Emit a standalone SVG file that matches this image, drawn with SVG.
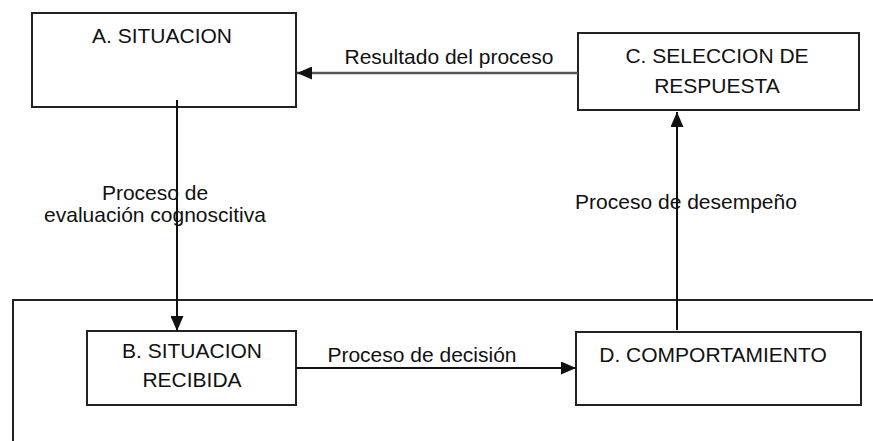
<svg xmlns="http://www.w3.org/2000/svg" width="873" height="441" viewBox="0 0 873 441">
  <style>
    .box { fill: #ffffff; stroke: #222222; stroke-width: 2; }
    .frame { fill: none; stroke: #222222; stroke-width: 2; }
    .label { font-family: "Liberation Sans", Arial, sans-serif; font-size: 21px; fill: #111111; text-anchor: middle; }
    .conn { fill: none; stroke: #111111; stroke-width: 2; }
    .conn-grey { fill: none; stroke: #555555; stroke-width: 2.5; }
  </style>
  <defs>
    <marker id="arrow" viewBox="0 0 15 13" refX="15" refY="6.5" markerWidth="15" markerHeight="13" orient="auto" markerUnits="userSpaceOnUse">
      <path d="M0,0 L15,6.5 L0,13 z" fill="#111111"/>
    </marker>
  </defs>
  <rect width="873" height="441" fill="#ffffff"/>

  <!-- outer frame around the lower stage -->
  <rect class="frame" x="13" y="300" width="900" height="200"/>

  <g id="node-a">
    <rect class="box" x="32" y="13" width="264" height="94"/>
    <text class="label" x="162" y="43">A. SITUACION</text>
  </g>

  <g id="node-c">
    <rect class="box" x="578" y="33" width="281" height="77"/>
    <text class="label" x="717" y="63">C. SELECCION DE</text>
    <text class="label" x="717" y="93">RESPUESTA</text>
  </g>

  <g id="node-b">
    <rect class="box" x="87" y="331" width="209" height="74"/>
    <text class="label" x="192" y="358">B. SITUACION</text>
    <text class="label" x="192" y="387">RECIBIDA</text>
  </g>

  <g id="node-d">
    <rect class="box" x="576" y="332" width="285" height="73"/>
    <text class="label" x="713" y="362">D. COMPORTAMIENTO</text>
  </g>

  <g id="connectors">
    <!-- C to A -->
    <line class="conn-grey" x1="578" y1="73" x2="297" y2="73" marker-end="url(#arrow)"/>
    <text class="label" x="449" y="64">Resultado del proceso</text>

    <!-- A to B -->
    <line class="conn" x1="177" y1="100" x2="177" y2="331" marker-end="url(#arrow)"/>
    <text class="label" x="155" y="200">Proceso de</text>
    <text class="label" x="155" y="222">evaluación cognoscitiva</text>

    <!-- B to D -->
    <line class="conn" x1="296" y1="368" x2="576" y2="368" marker-end="url(#arrow)"/>
    <text class="label" x="422" y="362">Proceso de decisión</text>

    <!-- D to C -->
    <line class="conn" x1="677" y1="330" x2="677" y2="112" marker-end="url(#arrow)"/>
    <text class="label" x="686" y="209">Proceso de desempeño</text>
  </g>
</svg>
